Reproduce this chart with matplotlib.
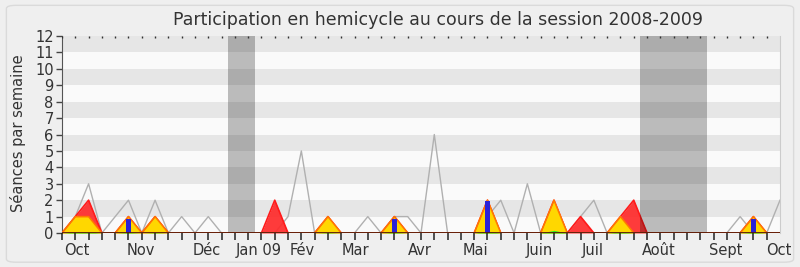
import numpy as np
import matplotlib
matplotlib.use('Agg')
from matplotlib import pyplot as plt
from matplotlib.patches import FancyBboxPatch
from matplotlib.collections import LineCollection
from matplotlib.transforms import blended_transform_factory

# Data ---------------------------------------------------------------------
weeks = np.arange(55)

# median line (grey)
median_seances = [0, 1, 3, 0, 1, 2, 0, 2, 0, 1, 0, 1, 0, 0, 0, 0, 0, 1, 5, 0,
                  0, 0, 0, 1, 0, 1, 1, 0, 6, 0, 0, 0, 1, 2, 0, 3, 0, 0, 0, 1,
                  2, 0, 0, 0, 0, 0, 0, 0, 0, 0, 0, 1, 0, 0, 2]
# presences (red)
presences = [0, 1, 2, 0, 0, 1, 0, 1, 0, 0, 0, 0, 0, 0, 0, 0, 2, 0, 0, 0,
             1, 0, 0, 0, 0, 1, 0, 0, 0, 0, 0, 0, 2, 0, 0, 0, 0, 2, 0, 1,
             0, 0, 1, 2, 0, 0, 0, 0, 0, 0, 0, 0, 1, 0, 0]
# participations (yellow)
participations = [0, 1, 1, 0, 0, 1, 0, 1, 0, 0, 0, 0, 0, 0, 0, 0, 0, 0, 0, 0,
                  1, 0, 0, 0, 0, 1, 0, 0, 0, 0, 0, 0, 2, 0, 0, 0, 0, 2, 0, 0,
                  0, 0, 1, 0, 0, 0, 0, 0, 0, 0, 0, 0, 1, 0, 0]
# interventions (green)
interventions = [0, 0.06, 0.06, 0, 0, 0.04, 0, 0.03, 0, 0, 0, 0, 0, 0, 0, 0, 0, 0, 0, 0,
                 0.03, 0, 0, 0, 0, 0.04, 0, 0, 0, 0, 0, 0, 0.1, 0, 0, 0, 0, 0.16, 0, 0,
                 0, 0, 0.06, 0, 0, 0, 0, 0, 0, 0, 0, 0, 0.05, 0, 0]
# questions orales (blue bars)
question_weeks = [5, 25, 32, 52]
question_values = [0.88, 0.88, 1.95, 0.85]

# holiday periods (weeks)
vacances = [(12.5, 14.5), (43.5, 48.5)]

month_labels = ['Oct', 'Nov', 'Déc', 'Jan 09', 'Fév', 'Mar', 'Avr', 'Mai',
                'Juin', 'Juil', 'Août', 'Sept', 'Oct']
month_ticks = [1.1, 5.9, 10.9, 14.8, 18.05, 22.1, 26.9, 31.1, 35.9, 39.9, 44.9, 49.9, 53.9]

# Plot ---------------------------------------------------------------------
fig = plt.figure(figsize=(8, 2.67), dpi=100)
fig.patch.set_facecolor('#efefef')

frame = FancyBboxPatch((0.008, 0.018), 0.984, 0.962,
                       boxstyle='round,pad=0,rounding_size=0.012',
                       transform=fig.transFigure, facecolor='none',
                       edgecolor='#dadada', linewidth=1, zorder=30)
fig.add_artist(frame)

ax = fig.add_axes([0.0775, 0.1273, 0.8975, 0.7377])
ax.set_facecolor('#fafafa')

# horizontal stripes
for y in range(1, 12, 2):
    ax.axhspan(y, y + 1, color='#e6e6e6', lw=0, zorder=0)

ax.plot(weeks, median_seances, color='#b0b0b0', lw=1, zorder=2)

ax.fill_between(weeks, presences, color='#ff2a2a', alpha=0.92, lw=0, zorder=3)
ax.plot(weeks, presences, color='#ff1a1a', lw=1.2, zorder=3)
ax.fill_between(weeks, participations, color='#ffd700', lw=0, zorder=4)
ax.plot(weeks, participations, color='#ff7a00', lw=1.1, zorder=4)
ax.fill_between(weeks, interventions, color='#22ee22', lw=0, zorder=5)

ax.bar(question_weeks, question_values, width=0.38, color='#2a22d8', zorder=6)

for start, end in vacances:
    ax.axvspan(start, end, color='black', alpha=0.25, lw=0, zorder=7)

ax.axhline(0, color='#5a1a0a', lw=1.3, zorder=8)

ax.set_xlim(0, 54)
ax.set_ylim(0, 12)

ax.set_yticks(range(13))
ax.set_xticks(month_ticks)
ax.set_xticklabels(month_labels)
ax.tick_params(axis='x', length=0, pad=7, labelsize=10.5, labelcolor='#333333')
ax.tick_params(axis='y', length=4, width=1, direction='out', color='#444444',
               labelsize=10.5, labelcolor='#333333', pad=2)

# short inward week marks on top
trans = ax.get_xaxis_transform()
ax.vlines(range(54), 0.992, 1, transform=trans, colors='#333333', lw=1, zorder=9)

# week tick marks below the axis, drawn at figure level
fig_trans = blended_transform_factory(ax.transData, fig.transFigure)
segments = [[(w, 0.1273 - 0.026), (w, 0.1273)] for w in range(54)]
week_ticks = LineCollection(segments, colors='#222222', linewidths=1.1,
                            transform=fig_trans, zorder=40)
fig.add_artist(week_ticks)

ax.spines['top'].set_visible(False)
ax.spines['right'].set_color('#cccccc')
ax.spines['left'].set_color('#555555')
ax.spines['bottom'].set_visible(False)

fig.text(0.547, 0.925, 'Participation en hemicycle au cours de la session 2008-2009',
         ha='center', va='center', fontsize=12.5, color='#333333')
fig.text(0.0225, 0.5, 'Séances par semaine', rotation=90, ha='center', va='center',
         fontsize=10.5, color='#333333')

plt.savefig('out.png', dpi=100)
